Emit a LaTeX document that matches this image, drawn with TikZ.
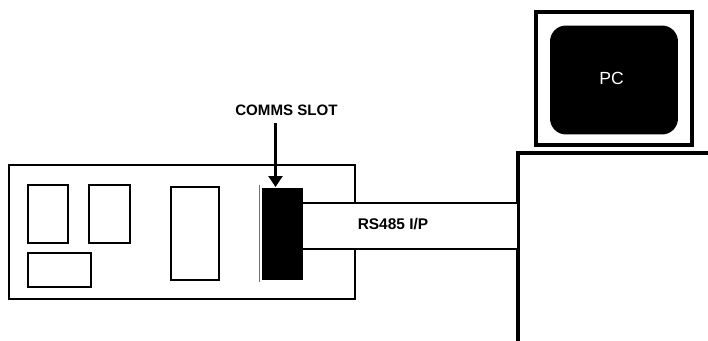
\documentclass[tikz,border=0pt]{standalone}
\usepackage{fontspec}
\setmainfont{Liberation Sans}
\usetikzlibrary{arrows.meta,positioning}
\tikzset{
    part/.style={draw, line width=0.04cm, inner sep=0pt, fill=white},
    solidpart/.style={fill=black, inner sep=0pt},
    caption/.style={font=\fontsize{8.6}{10}\selectfont\bfseries, inner sep=0pt},
    heavy/.style={line width=0.08cm},
    wire/.style={line width=0.04cm},
}

\begin{document}
\begin{tikzpicture}[x=0.02cm, y=-0.02cm]
    \useasboundingbox (0,0) rectangle (708,341);
    % Card
    \node[part, minimum width=6.92cm, minimum height=2.68cm] (card) at (182,232) {};
    \node[part, minimum width=0.80cm, minimum height=1.16cm] (chipa) at (48,214) {};
    \node[part, minimum width=0.82cm, minimum height=1.16cm] (chipb) at (109.5,214) {};
    \node[part, minimum width=1.26cm, minimum height=0.68cm] (chipc) at (59.5,270) {};
    \node[part, minimum width=0.96cm, minimum height=1.86cm] (chipd) at (195,233.5) {};
    \node[solidpart, minimum width=0.82cm, minimum height=1.84cm] (slot) at (282.5,234) {};
    \coordinate (guardtop) at (259.5,185);
    \coordinate (guardbot) at (259.5,282);
    \draw[line width=0.03cm, black!55] (guardtop) -- (guardbot);
    % PC
    \node[part, line width=0.08cm, minimum width=3.12cm, minimum height=2.68cm] (monitor) at (614,78.5) {};
    \node[solidpart, rounded corners=0.32cm, minimum width=2.56cm, minimum height=2.18cm] (screen) at (614,80) {};
    \node[font=\fontsize{10}{12}\selectfont, inner sep=0pt, white] (pclabel) at (611.5,78) {PC};
    \coordinate (casefoot) at (518,341);
    \coordinate (casecorner) at (518,153);
    \coordinate (caseend) at (708,153);
    \draw[heavy] (casefoot) -- (casecorner) -- (caseend);
    % Cable
    \node[fill=white, inner sep=0pt, minimum width=4.28cm, minimum height=0.92cm] (cable) at (410,226) {};
    \coordinate (cablea) at (517,203);
    \coordinate (cableb) at (517,249);
    \draw[wire] (slot.east |- cablea) -- (cablea);
    \draw[wire] (slot.east |- cableb) -- (cableb);
    \node[caption, font=\fontsize{8.8}{10}\selectfont\bfseries] (cablelabel) at (393,224) {RS485 I/P};
    % Slot pointer
    \node[caption] (slotlabel) at (286.5,110.5) {COMMS SLOT};
    \coordinate (pointerend) at (275.5,187);
    \draw[line width=0.05cm, -{Triangle[width=0.28cm, length=0.22cm]}] (pointerend |- slotlabel.south) ++(0,7) -- (pointerend);
\end{tikzpicture}
\end{document}
